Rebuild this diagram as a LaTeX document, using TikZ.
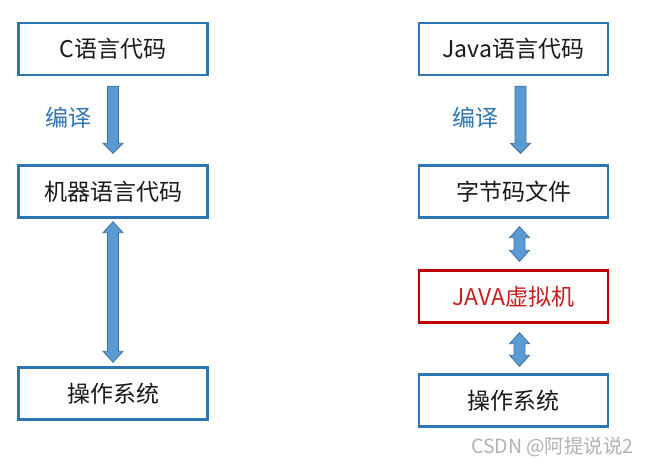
\documentclass[tikz,border=0pt]{standalone}
\usepackage{fontspec}
\setmainfont{Noto Sans CJK SC}
\newfontfamily\cjkf{Noto Sans CJK SC}
\usetikzlibrary{calc}
\definecolor{boxblue}{RGB}{46,117,182}
\definecolor{arrfill}{RGB}{91,155,213}
\definecolor{arrline}{RGB}{65,113,160}
\definecolor{vmred}{RGB}{192,0,0}
\definecolor{vmtext}{RGB}{200,30,30}
\definecolor{labblue}{RGB}{46,117,182}
\tikzset{
  stepbox/.style={draw=boxblue, line width=2.4pt, minimum width=189pt, minimum height=52pt,
    inner sep=0pt, font=\cjkf\fontsize{23}{26}\selectfont, text=black!90},
  vmbox/.style={stepbox, draw=vmred, text=vmtext},
  blockarrow/.style={fill=arrfill, draw=arrline, line width=0.8pt, line join=miter},
  steplabel/.style={font=\cjkf\fontsize{23}{26}\selectfont, text=labblue, inner sep=0pt},
  watermark/.style={font=\cjkf\fontsize{19.5}{22}\selectfont, text=black!30, inner sep=0pt}
}
% down block arrow: #1 from node, #2 to node, #3 top gap, #4 bottom gap, #5 x offset
\newcommand\dnarrow[5]{%
  \draw[blockarrow] let \p1=($(#1.south)+(#5,0)$), \p2=(#2.north) in
    (\x1-5.5pt,\y1-#3) -- (\x1+5.5pt,\y1-#3) -- (\x1+5.5pt,\y2+#4+10pt) --
    (\x1+10pt,\y2+#4+10pt) -- (\x1,\y2+#4) -- (\x1-10pt,\y2+#4+10pt) --
    (\x1-5.5pt,\y2+#4+10pt) -- cycle;}
% double block arrow
\newcommand\dblarrow[5]{%
  \draw[blockarrow] let \p1=($(#1.south)+(#5,0)$), \p2=(#2.north) in
    (\x1,\y1-#3) -- (\x1+10pt,\y1-#3-11pt) -- (\x1+5.5pt,\y1-#3-11pt) --
    (\x1+5.5pt,\y2+#4+11pt) -- (\x1+10pt,\y2+#4+11pt) -- (\x1,\y2+#4) --
    (\x1-10pt,\y2+#4+11pt) -- (\x1-5.5pt,\y2+#4+11pt) --
    (\x1-5.5pt,\y1-#3-11pt) -- (\x1-10pt,\y1-#3-11pt) -- cycle;}
\begin{document}
\begin{tikzpicture}[x=1pt,y=-1pt]
\useasboundingbox[fill=white] (0,0) rectangle (645,463);
% left column
\node[stepbox] (c)   at (113,49)    {C语言代码};
\node[stepbox] (mc)  at (113,191.5) {机器语言代码};
\node[stepbox] (os1) at (113,393.5) {操作系统};
% right column
\node[stepbox] (java) at (513.5,49)    {Java语言代码};
\node[stepbox] (bc)   at (513.5,191.5) {字节码文件};
\node[vmbox]   (jvm)  at (513.5,296.5) {JAVA虚拟机};
\node[stepbox] (os2)  at (513.5,400.5) {操作系统};
% arrows
\dnarrow{c}{mc}{10pt}{11pt}{0}
\dblarrow{mc}{os1}{3pt}{4pt}{0}
\dnarrow{java}{bc}{10pt}{11pt}{7}
\dblarrow{bc}{jvm}{8pt}{8pt}{6}
\dblarrow{jvm}{os2}{9pt}{7pt}{6}
% labels
\node[steplabel] (l1) at (68.5,118) {编译};
\node[steplabel] (l2) at (475.5,118) {编译};
\node[watermark, anchor=east] (wm) at (634,447) {CSDN @阿提说说2};
\end{tikzpicture}
\end{document}
